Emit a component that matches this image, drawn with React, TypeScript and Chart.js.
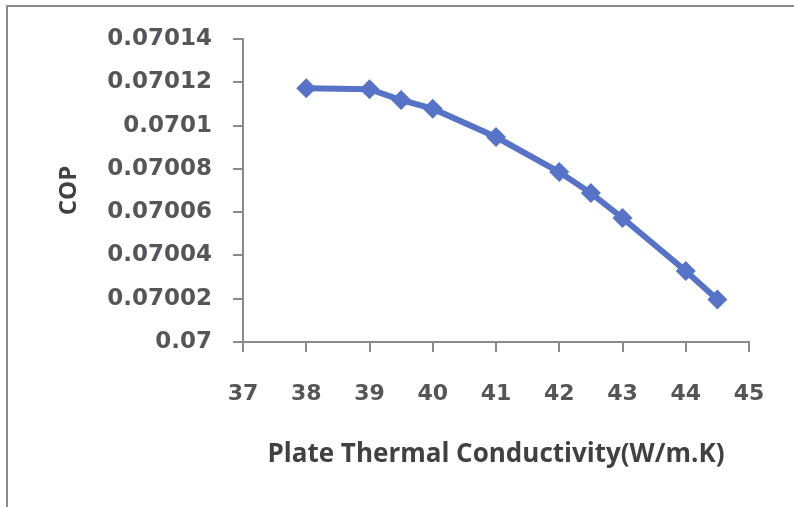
import React, { useEffect, useRef } from "react";
import { Chart, registerables } from "chart.js";

Chart.register(...registerables);

const conductivity = [38, 39, 39.5, 40, 41, 42, 42.5, 43, 44, 44.5];
const cop = [0.0701173, 0.0701168, 0.0701118, 0.0701078, 0.0700947, 0.0700785, 0.0700688, 0.0700573, 0.0700328, 0.0700196];
const yTickValues = [0.07, 0.07002, 0.07004, 0.07006, 0.07008, 0.0701, 0.07012, 0.07014];
const yTickLabels = ["0.07", "0.07002", "0.07004", "0.07006", "0.07008", "0.0701", "0.07012", "0.07014"];
const xTickValues = [37, 38, 39, 40, 41, 42, 43, 44, 45];
const xTitle = "Plate Thermal Conductivity(W/m.K)";
const yTitle = "COP";

export default function App() {
  const ref = useRef<HTMLCanvasElement>(null);
  useEffect(() => {
    if (!ref.current) return;
    const axisColor = "#8a8a8e";
    const chart = new Chart(ref.current, {
      type: "line",
      data: {
        datasets: [
          {
            data: conductivity.map((x, i) => ({ x, y: cop[i] })),
            borderColor: "#5673c8",
            backgroundColor: "#5673c8",
            borderWidth: 6,
            pointStyle: "rectRot",
            pointRadius: 10,
            pointBorderWidth: 0,
            tension: 0,
          },
        ],
      },
      options: {
        responsive: false,
        animation: false,
        layout: { padding: { top: 39, right: 45, bottom: 0, left: 0 } },
        plugins: { legend: { display: false }, tooltip: { enabled: false } },
        scales: {
          x: {
            type: "linear",
            min: 37,
            max: 45,
            afterBuildTicks: (s: any) => {
              s.ticks = xTickValues.map((v) => ({ value: v }));
            },
            afterFit: (s: any) => {
              s.height = 165;
            },
            grid: { drawOnChartArea: false, tickLength: 10, color: axisColor, lineWidth: 2 },
            border: { color: axisColor, width: 2 },
            ticks: {
              padding: 29,
              color: "#55555a",
              font: { family: "DejaVu Sans", size: 22, weight: "bold" },
              maxRotation: 0,
              autoSkip: false,
              callback: (v: any) => String(v),
            },
            title: {
              display: true,
              text: xTitle,
              color: "#404045",
              font: { family: "Open Sans", size: 26, weight: "bold" },
              padding: { top: 0, bottom: 37 },
            },
          },
          y: {
            type: "linear",
            min: 0.07,
            max: 0.07014,
            afterBuildTicks: (s: any) => {
              s.ticks = yTickValues.map((v) => ({ value: v }));
            },
            afterFit: (s: any) => {
              s.width = 243;
            },
            grid: { drawOnChartArea: false, tickLength: 10, color: axisColor, lineWidth: 2 },
            border: { color: axisColor, width: 2 },
            ticks: {
              padding: 21,
              color: "#55555a",
              font: { family: "DejaVu Sans", size: 23, weight: "bold" },
              autoSkip: false,
              callback: (_v: any, i: number) => yTickLabels[i],
            },
            title: {
              display: true,
              text: yTitle,
              color: "#404045",
              font: { family: "Open Sans", size: 24, weight: "bold" },
              padding: { top: 55, bottom: 0 },
            },
          },
        },
      },
    });
    return () => chart.destroy();
  }, []);

  return (
    <div
      style={{
        position: "fixed",
        left: 0,
        top: 0,
        width: 794,
        height: 507,
        overflow: "hidden",
        background: "#ffffff",
      }}
    >
      <div
        style={{
          position: "absolute",
          left: 6,
          top: 5,
          width: 900,
          height: 600,
          borderLeft: "2px solid #8c8c90",
          borderTop: "2px solid #8c8c90",
        }}
      />
      <canvas ref={ref} width={794} height={507} style={{ position: "absolute", left: 0, top: 0 }} />
    </div>
  );
}
